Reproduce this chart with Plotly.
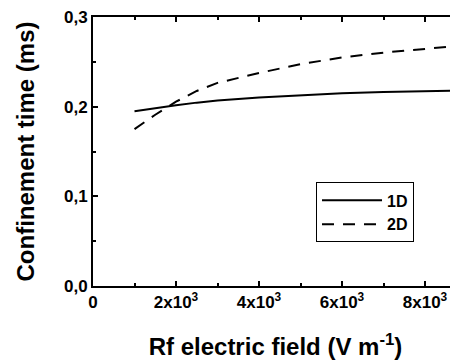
import plotly.graph_objects as go

field = [1000, 1500, 2000, 2500, 3000, 4000, 5000, 6000, 7000, 8000, 9000]
time_1d = [0.195, 0.1985, 0.2015, 0.2045, 0.2068, 0.2102, 0.2130, 0.2150, 0.2164, 0.2175, 0.2182]
field_2d = [1000, 1500, 2000, 2500, 3000, 3500, 4000, 5000, 6000, 7000, 8000, 9000]
time_2d = [0.175, 0.191, 0.2055, 0.2175, 0.2265, 0.232, 0.2375, 0.2475, 0.2548, 0.2603, 0.2645, 0.2685]

x_tickvals = [0, 2000, 4000, 6000, 8000, 10000]
x_ticktext = ["0", "2x10<sup>3</sup>", "4x10<sup>3</sup>", "6x10<sup>3</sup>", "8x10<sup>3</sup>", "10x10<sup>3</sup>"]
y_tickvals = [0.0, 0.1, 0.2, 0.3]

font_family = "Liberation Sans, Arial, sans-serif"

fig = go.Figure()
fig.add_trace(go.Scatter(x=field, y=time_1d, mode="lines", name="1D",
                         line=dict(color="black", width=2)))
fig.add_trace(go.Scatter(x=field_2d, y=time_2d, mode="lines", name="2D",
                         line=dict(color="black", width=2, dash="12px,9px")))

fig.update_layout(
    width=450, height=352,
    margin=dict(l=85, r=0, t=9, b=74, autoexpand=False),
    paper_bgcolor="white", plot_bgcolor="white",
    separators=",.",
    font=dict(family=font_family, color="black", size=16, weight="bold"),
    showlegend=True,
    legend=dict(x=0.611, y=0.385, xanchor="left", yanchor="top",
                bordercolor="black", borderwidth=1, bgcolor="white",
                font=dict(size=16, weight="bold"), tracegroupgap=0,
                itemwidth=60),
    xaxis=dict(range=[0, 8795], tickvals=x_tickvals, ticktext=x_ticktext,
               automargin=False, ticklabeloverflow="allow",
               showline=True, linecolor="black", linewidth=2, mirror="ticks",
               ticks="inside", ticklen=5, tickwidth=1.5, tickcolor="black",
               showgrid=False, zeroline=False,
               minor=dict(dtick=1000, ticks="inside", ticklen=3, tickwidth=1.5, tickcolor="black", showgrid=False),
               tickfont=dict(size=17, weight="bold"),
               title=dict(text="Rf electric field (V m<sup>-1</sup>)", font=dict(size=24, weight="bold"), standoff=27)),
    yaxis=dict(range=[0, 0.3], tickvals=y_tickvals, tickformat=".1f",
               automargin=False, ticklabeloverflow="allow",
               showline=True, linecolor="black", linewidth=2,
               ticks="inside", ticklen=5, tickwidth=1.5, tickcolor="black",
               showgrid=False, zeroline=False,
               minor=dict(dtick=0.05, ticks="inside", ticklen=3, tickwidth=1.5, tickcolor="black", showgrid=False),
               tickfont=dict(size=17, weight="bold"),
               title=dict(text="Confinement time (ms)", font=dict(size=24, weight="bold"), standoff=23)),
)

fig.write_html("out.html")
